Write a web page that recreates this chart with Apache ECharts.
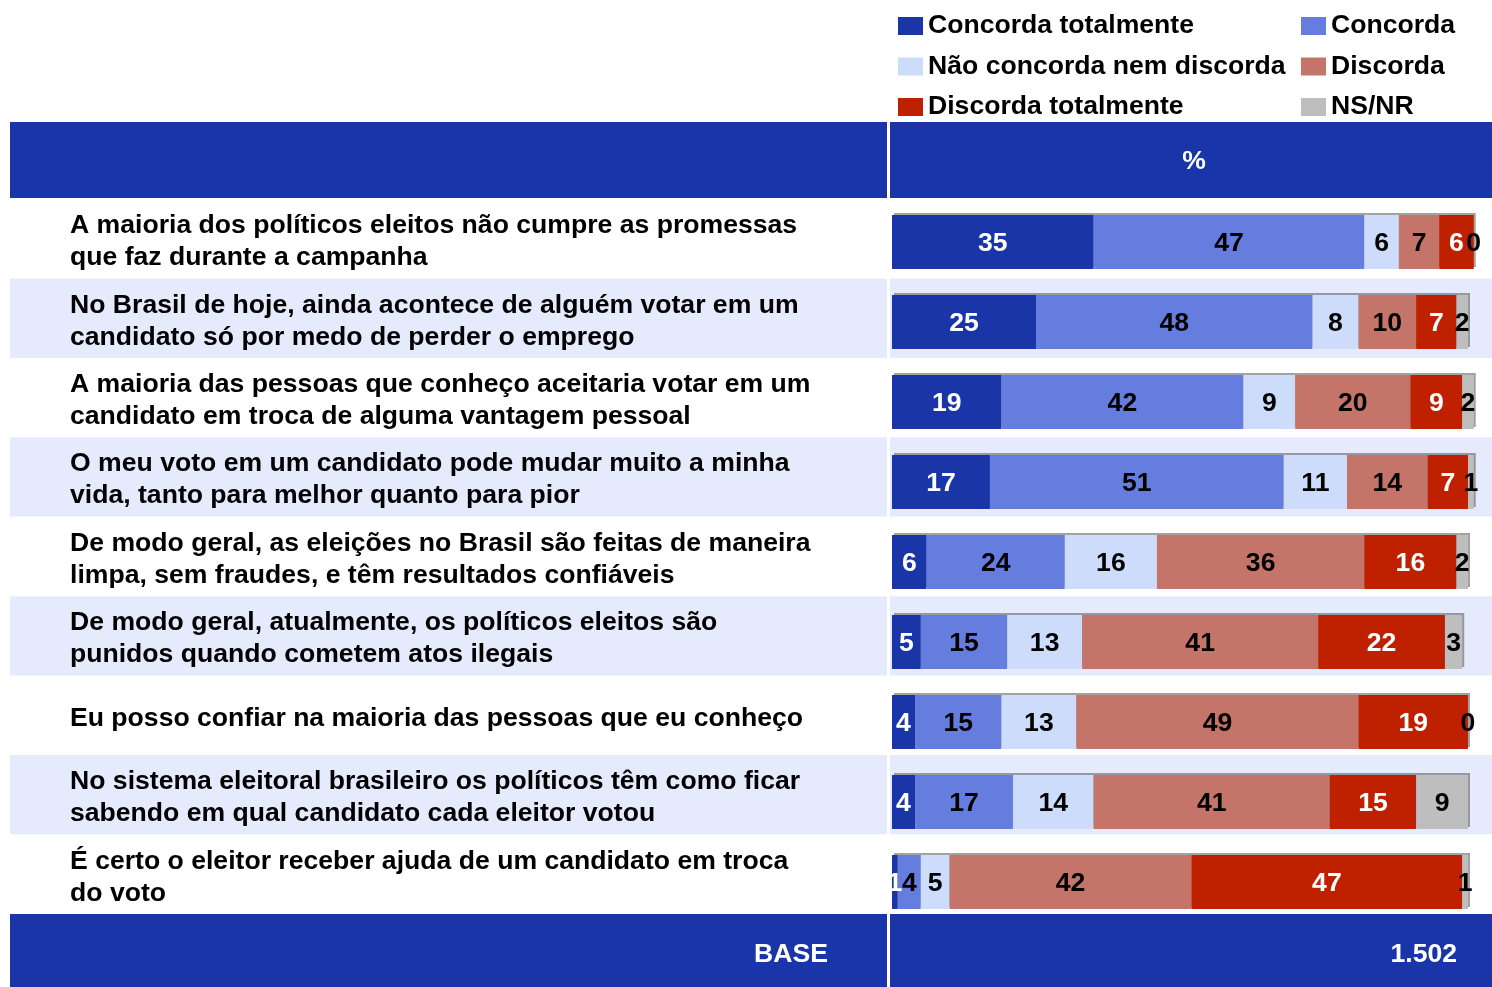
<!DOCTYPE html>
<html>
<head>
<meta charset="utf-8">
<script src="https://cdn.jsdelivr.net/npm/echarts@6/dist/echarts.min.js"></script>
<style>
html,body{margin:0;padding:0;background:#fff;}
#chart{width:1492px;height:987px;}
</style>
</head>
<body>
<div id="chart"></div>
<script>
const categories = [
  "A maioria dos políticos eleitos não cumpre as promessas\nque faz durante a campanha",
  "No Brasil de hoje, ainda acontece de alguém votar em um\ncandidato só por medo de perder o emprego",
  "A maioria das pessoas que conheço aceitaria votar em um\ncandidato em troca de alguma vantagem pessoal",
  "O meu voto em um candidato pode mudar muito a minha\nvida, tanto para melhor quanto para pior",
  "De modo geral, as eleições no Brasil são feitas de maneira\nlimpa, sem fraudes, e têm resultados confiáveis",
  "De modo geral, atualmente, os políticos eleitos são\npunidos quando cometem atos ilegais",
  "Eu posso confiar na maioria das pessoas que eu conheço",
  "No sistema eleitoral brasileiro os políticos têm como ficar\nsabendo em qual candidato cada eleitor votou",
  "É certo o eleitor receber ajuda de um candidato em troca\ndo voto"
];
const concordaTotalmente = [35, 25, 19, 17, 6, 5, 4, 4, 1];
const concorda           = [47, 48, 42, 51, 24, 15, 15, 17, 4];
const naoConcordaNem     = [6, 8, 9, 11, 16, 13, 13, 14, 5];
const discorda           = [7, 10, 20, 14, 36, 41, 49, 41, 42];
const discordaTotalmente = [6, 7, 9, 7, 16, 22, 19, 15, 47];
const nsnr               = [0, 2, 2, 1, 2, 3, 0, 9, 1];
const seriesNames = ["Concorda totalmente", "Concorda", "Não concorda nem discorda", "Discorda", "Discorda totalmente", "NS/NR"];
const headerText = "%";
const baseLabel = "BASE";
const baseValue = "1.502";

const colors = ["#1a35a8", "#667de0", "#cddcfb", "#c47468", "#bf2000", "#bebebe"];
const labelColors = ["#ffffff", "#000000", "#000000", "#000000", "#ffffff", "#000000"];
const seriesData = [concordaTotalmente, concorda, naoConcordaNem, discorda, discordaTotalmente, nsnr];
const FONT = "'Liberation Sans', Arial, sans-serif";
const FS = 26.6;

const chart = echarts.init(document.getElementById('chart'));

const series = seriesData.map((d, i) => ({
  name: seriesNames[i],
  type: 'bar',
  stack: 'total',
  xAxisIndex: 1,
  yAxisIndex: 1,
  barWidth: 54,
  clip: false,
  data: d,
  itemStyle: {
    color: colors[i],
    shadowColor: 'rgba(70,70,70,0.5)',
    shadowOffsetX: 2,
    shadowOffsetY: -2,
    shadowBlur: 0
  },
  label: {
    show: true,
    position: 'inside',
    offset: [0, 2],
    color: labelColors[i],
    fontFamily: FONT,
    fontWeight: 'bold',
    fontSize: FS
  },
  emphasis: { disabled: true }
}));

const legendText = { fontFamily: FONT, fontWeight: 'bold', fontSize: FS, color: '#000', lineHeight: 30 };

chart.setOption({
  animation: false,
  backgroundColor: '#ffffff',
  legend: [
    {
      data: [seriesNames[0], seriesNames[2], seriesNames[4]],
      orient: 'vertical', left: 898, top: 11, padding: 0,
      itemWidth: 25, itemHeight: 18, itemGap: 10.5,
      icon: 'rect', selectedMode: false,
      textStyle: legendText
    },
    {
      data: [seriesNames[1], seriesNames[3], seriesNames[5]],
      orient: 'vertical', left: 1301, top: 11, padding: 0,
      itemWidth: 25, itemHeight: 18, itemGap: 10.5,
      icon: 'rect', selectedMode: false,
      textStyle: legendText
    }
  ],
  grid: [
    { left: 10, right: 0, top: 199, height: 715 },
    { left: 892, width: 576, top: 202, height: 720 },
    { left: 10, right: 0, top: 202, height: 715 }
  ],
  xAxis: [
    { type: 'value', gridIndex: 0, show: false, min: 0, max: 100 },
    { type: 'value', gridIndex: 1, show: false, min: 0, max: 100 },
    { type: 'value', gridIndex: 2, show: false, min: 0, max: 100 }
  ],
  yAxis: [
    {
      type: 'category', gridIndex: 0, inverse: true, data: categories,
      axisLine: { show: false }, axisTick: { show: false },
      splitLine: { show: false }, axisLabel: { show: false },
      splitArea: { show: true, areaStyle: { color: ['#ffffff', '#e5ebfc'] } }
    },
    {
      type: 'category', gridIndex: 1, inverse: true, data: categories, show: false
    },
    {
      type: 'category', gridIndex: 2, inverse: true, data: categories,
      axisLine: { show: false }, axisTick: { show: false },
      splitLine: { show: false }, splitArea: { show: false },
      axisLabel: {
        inside: true, margin: 60, align: 'left',
        fontFamily: FONT, fontWeight: 'bold', fontSize: FS, lineHeight: 32, color: '#000'
      }
    }
  ],
  graphic: [
    { type: 'rect', left: 10, top: 122, shape: { width: 1482, height: 76 }, style: { fill: '#1935a9' }, z: 50 },
    { type: 'rect', left: 10, top: 914, shape: { width: 1482, height: 73 }, style: { fill: '#1935a9' }, z: 50 },
    { type: 'rect', left: 887, top: 122, shape: { width: 3, height: 865 }, style: { fill: '#ffffff' }, z: 60 },
    { type: 'text', x: 1194, y: 162, style: { text: headerText, fill: '#fff', font: "bold 26.6px 'Liberation Sans', Arial, sans-serif", textAlign: 'center', textVerticalAlign: 'middle' }, z: 70 },
    { type: 'text', x: 828, y: 955, style: { text: baseLabel, fill: '#fff', font: "bold 26.6px 'Liberation Sans', Arial, sans-serif", textAlign: 'right', textVerticalAlign: 'middle' }, z: 70 },
    { type: 'text', x: 1457, y: 955, style: { text: baseValue, fill: '#fff', font: "bold 26.6px 'Liberation Sans', Arial, sans-serif", textAlign: 'right', textVerticalAlign: 'middle' }, z: 70 }
  ],
  series: series
});
</script>
</body>
</html>
